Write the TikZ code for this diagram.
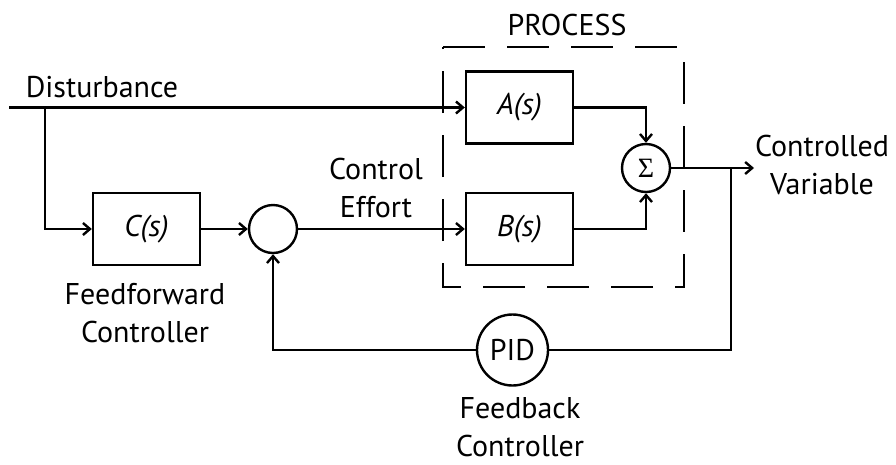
\documentclass[tikz,border=0pt]{standalone}
\usepackage{fontspec}
\setmainfont{PT Sans}
\newfontfamily\sumfont{Liberation Serif}
\usetikzlibrary{arrows.meta}
\begin{document}
\begin{tikzpicture}[x=1pt,y=-1pt,line width=2.4pt,
		every node/.style={font=\fontsize{30}{38}\selectfont,inner sep=0pt},
		blk/.style={draw,minimum width=107pt,minimum height=72pt,font=\fontsize{30}{38}\selectfont\itshape},
		junc/.style={draw,circle,minimum size=48pt},
		lbl/.style={align=center},
		>={Straight Barb[length=7pt,width=12pt]}]
	\useasboundingbox (0,0) rectangle (896,464);
	% blocks and junctions
	\node[blk] (cbox) at (146.5,229) {C(s)};
	\node[junc] (sumff) at (273,229) {};
	\node[blk] (abox) at (519.5,107.5) {A(s)};
	\node[blk] (bbox) at (519.5,229) {B(s)};
	\node[junc,font=\fontsize{28}{30}\sumfont] (sigma) at (646,168) {Σ};
	\node[junc,minimum size=71pt] (pid) at (512.5,350) {PID};
	% process frame
	\draw[dash pattern=on 42pt off 22pt] (443,47) -- (684,47) -- (684,287) -- (443,287) -- cycle;
	\node[anchor=base] (proc) at (567,35) {PROCESS};
	% labels
	\node[anchor=base] (dist) at (102,97) {Disturbance};
	\node[lbl] (effort) at (376,188) {Control\\Effort};
	\node[lbl] (cvar) at (822,165) {Controlled\\Variable};
	\node[lbl] (ffc) at (145,313) {Feedforward\\Controller};
	\node[lbl] (fbc) at (520,427) {Feedback\\Controller};
	% signal lines
	\coordinate (din) at (9,107.5);
	\coordinate (split) at (45,107.5);
	\coordinate (out) at (754,168);
	\coordinate (tap) at (731,168);
	\draw[->] (din) -- (abox);
	\draw[->] (split) |- (cbox);
	\draw[->] (cbox) -- (sumff);
	\draw[->] (sumff) -- (bbox);
	\draw[->] (abox) -| (sigma);
	\draw[->] (bbox) -| (sigma);
	\draw[->] (sigma) -- (out);
	\draw[->] (tap) |- (pid) -| (sumff);
\end{tikzpicture}
\end{document}
